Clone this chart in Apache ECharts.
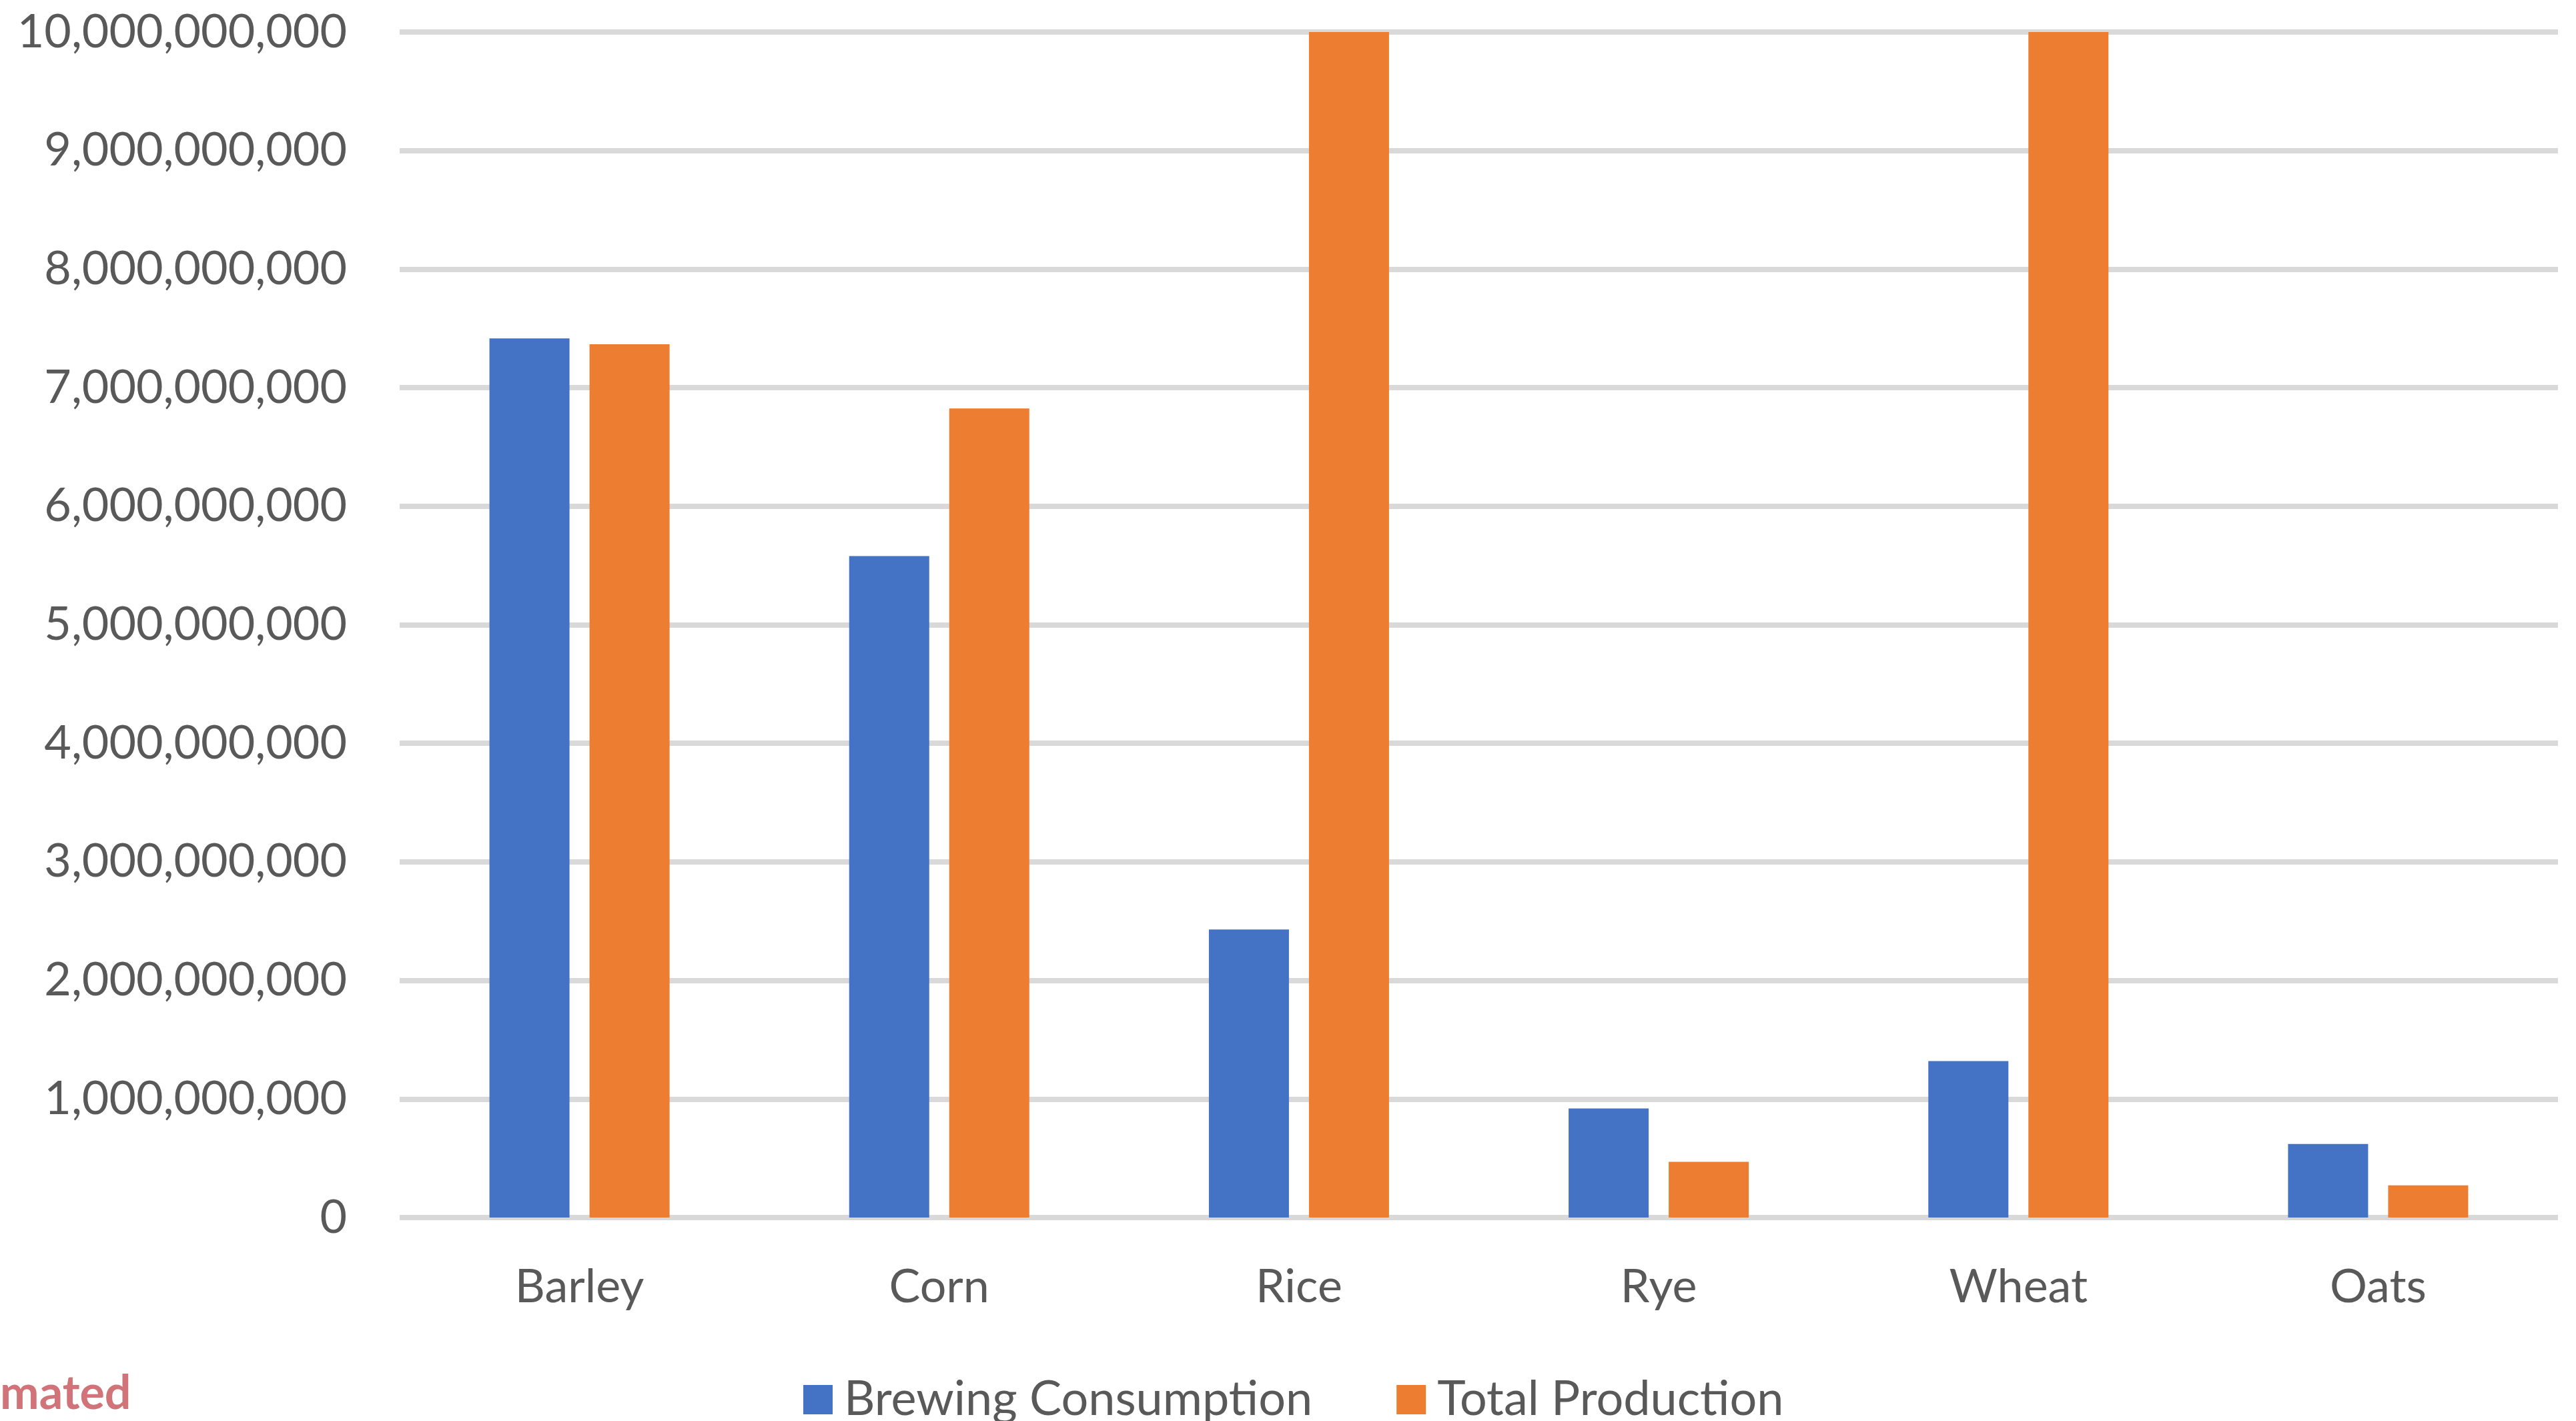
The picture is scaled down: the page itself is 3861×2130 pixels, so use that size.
<!DOCTYPE html>
<html>
<head>
<meta charset="utf-8">
<script src="https://cdn.jsdelivr.net/npm/echarts@6/dist/echarts.min.js"></script>
<style>
html,body{margin:0;padding:0;background:#fff;}
#chart{width:3861px;height:2130px;}
</style>
</head>
<body>
<div id="chart"></div>
<script>
const categories = ['Barley', 'Corn', 'Rice', 'Rye', 'Wheat', 'Oats'];
const brewingConsumption = [7415000000, 5580000000, 2430000000, 920000000, 1320000000, 620000000];
const totalProduction = [7366000000, 6825000000, 12000000000, 470000000, 14000000000, 272000000];
const seriesNames = ['Brewing Consumption', 'Total Production'];
const yTicks = { min: 0, max: 10000000000, interval: 1000000000 };

const FONT = 'Lato';
const TEXT = '#595959';

const chart = echarts.init(document.getElementById('chart'), null, { renderer: 'canvas' });
chart.setOption({
  backgroundColor: '#ffffff',
  animation: false,
  color: ['#4472C4', '#ED7D31'],
  grid: { left: 599, right: 27, top: 48, bottom: 305, containLabel: false },
  xAxis: {
    type: 'category',
    data: categories,
    axisLine: { show: false },
    axisTick: { show: false },
    axisLabel: { color: TEXT, fontFamily: FONT, fontSize: 70, margin: 69 }
  },
  yAxis: {
    type: 'value',
    min: yTicks.min,
    max: yTicks.max,
    interval: yTicks.interval,
    axisLine: { show: false },
    axisTick: { show: false },
    splitLine: { lineStyle: { color: '#D9D9D9', width: 8 } },
    axisLabel: {
      color: TEXT, fontFamily: FONT, fontSize: 70, margin: 79,
      formatter: v => v.toLocaleString('en-US')
    }
  },
  legend: {
    data: seriesNames,
    left: 1199,
    top: 2057,
    itemWidth: 44,
    itemHeight: 44,
    itemGap: 126,
    icon: 'rect',
    textStyle: { color: TEXT, fontFamily: FONT, fontSize: 72, lineHeight: 70, padding: [0, 0, 0, 12] }
  },
  graphic: [{
    type: 'text',
    left: 0,
    top: 2054,
    style: { text: 'mated', fill: '#D1747A', font: 'bold 70px Lato' }
  }],
  series: [
    { name: seriesNames[0], type: 'bar', data: brewingConsumption, barWidth: 120, barGap: '25%', clip: true },
    { name: seriesNames[1], type: 'bar', data: totalProduction, barWidth: 120, barGap: '25%', clip: true }
  ]
});
</script>
</body>
</html>
